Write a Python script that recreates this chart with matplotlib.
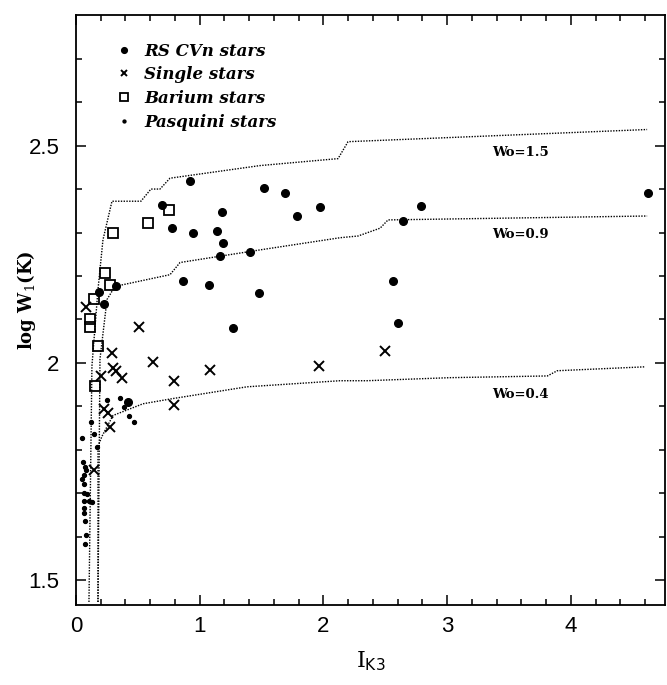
import matplotlib
matplotlib.use('Agg')
import matplotlib.pyplot as plt

plt.rcParams['mathtext.fontset'] = 'dejavuserif'

# RS CVn stars (I_K3, log W1)
rs_x = [0.922, 1.520, 1.690, 1.973, 1.787, 0.695, 1.180, 0.776, 0.946, 1.140,
        1.188, 1.407, 1.164, 0.865, 1.075, 1.479, 0.323, 0.186, 0.226, 1.269,
        0.420, 2.789, 2.644, 2.563, 2.603, 4.624]
rs_y = [2.418, 2.402, 2.390, 2.358, 2.338, 2.363, 2.347, 2.311, 2.299, 2.304,
        2.276, 2.256, 2.247, 2.189, 2.180, 2.160, 2.178, 2.162, 2.135, 2.080,
        1.909, 2.361, 2.326, 2.189, 2.091, 2.390]

# single stars
single_x = [0.083, 0.509, 0.293, 0.620, 1.086, 1.964, 0.792, 0.200, 0.302, 0.323,
            0.372, 0.226, 0.256, 0.792, 0.275, 0.148, 2.498]
single_y = [2.129, 2.082, 2.022, 2.002, 1.984, 1.992, 1.958, 1.971, 1.988, 1.982,
            1.966, 1.893, 1.884, 1.902, 1.853, 1.754, 2.027]

# barium stars
barium_x = [0.754, 0.584, 0.297, 0.232, 0.272, 0.146, 0.116, 0.111, 0.175, 0.156]
barium_y = [2.352, 2.323, 2.300, 2.208, 2.179, 2.146, 2.100, 2.082, 2.040, 1.947]

# Pasquini stars
pasq_x = [0.251, 0.358, 0.386, 0.426, 0.471, 0.124, 0.148, 0.049, 0.170, 0.057,
          0.069, 0.081, 0.061, 0.049, 0.065, 0.061, 0.089, 0.065, 0.105, 0.129,
          0.065, 0.065, 0.073, 0.081, 0.073]
pasq_y = [1.914, 1.920, 1.899, 1.878, 1.865, 1.865, 1.836, 1.827, 1.806, 1.772,
          1.761, 1.753, 1.743, 1.732, 1.721, 1.700, 1.699, 1.683, 1.682, 1.680,
          1.667, 1.655, 1.637, 1.603, 1.584]

# model curves for constant Wo
wo15_x = [0.105, 0.129, 0.178, 0.218, 0.291, 0.525, 0.606, 0.679, 0.760, 1.487,
          2.118, 2.199, 4.616]
wo15_y = [1.45, 1.993, 2.169, 2.283, 2.372, 2.372, 2.400, 2.400, 2.425, 2.454,
          2.470, 2.509, 2.537]
wo09_x = [0.178, 0.194, 0.251, 0.315, 0.760, 0.841, 1.487, 2.134, 2.280, 2.458,
          2.522, 4.616]
wo09_y = [1.45, 2.009, 2.146, 2.176, 2.203, 2.231, 2.260, 2.288, 2.292, 2.310,
          2.329, 2.338]
wo04_x = [0.178, 0.178, 0.210, 0.299, 0.542, 0.784, 1.382, 2.134, 2.350, 3.020,
          3.810, 3.890, 4.600]
wo04_y = [1.45, 1.808, 1.831, 1.879, 1.906, 1.918, 1.945, 1.959, 1.959, 1.966,
          1.970, 1.982, 1.991]

curve_labels = ['Wo=1.5', 'Wo=0.9', 'Wo=0.4']
label_x = [3.59, 3.59, 3.59]
label_y = [2.484, 2.295, 1.927]

fig = plt.figure(figsize=(6.67, 6.85), dpi=100)
ax = fig.add_axes([0.1139, 0.1168, 0.883, 0.861])

dots = (0, (1, 1))
for cx, cy in [(wo15_x, wo15_y), (wo09_x, wo09_y), (wo04_x, wo04_y)]:
    ax.plot(cx, cy, color='black', linestyle=dots, linewidth=1.0)

for t, lx, ly in zip(curve_labels, label_x, label_y):
    ax.text(lx, ly, t, ha='center', va='center', fontsize=9.5,
            fontfamily='DejaVu Serif', fontweight='bold')

ax.plot(rs_x, rs_y, 'o', color='black', markersize=5.5, label='RS CVn stars')
ax.plot(single_x, single_y, 'x', color='black', markersize=6.5,
        markeredgewidth=1.4, label='Single stars')
ax.plot(barium_x, barium_y, 's', color='black', markerfacecolor='none',
        markersize=7, markeredgewidth=1.3, label='Barium stars')
ax.plot(pasq_x, pasq_y, 'o', color='black', markersize=2.8,
        label='Pasquini stars')

ax.set_xlim(0, 4.76)
ax.set_ylim(1.443, 2.80)
ax.set_xticks([0, 1, 2, 3, 4])
ax.set_xticks([i * 0.2 for i in range(24)], minor=True)
ax.set_yticks([1.5, 2.0, 2.5])
ax.set_yticklabels(['1.5', '2', '2.5'])
ax.set_yticks([1.5 + i * 0.1 for i in range(13)], minor=True)
ax.tick_params(which='both', direction='in', top=True, right=True, width=1.1)
ax.tick_params(which='major', length=7, labelsize=16)
ax.tick_params(which='minor', length=4)
ax.tick_params(axis='y', which='major', pad=12)
ax.tick_params(axis='x', which='major', pad=8)
for lab in ax.get_xticklabels() + ax.get_yticklabels():
    lab.set_fontfamily('Liberation Sans')
for sp in ax.spines.values():
    sp.set_linewidth(1.3)

ax.set_xlabel(r'I$_{\mathsf{K3}}$', fontsize=16, fontfamily='DejaVu Serif')
ax.xaxis.set_label_coords(0.5, -0.075)
ax.set_ylabel(r'log W$_1$(K)', fontsize=13, fontfamily='DejaVu Serif',
              fontweight='bold')
ax.yaxis.set_label_coords(-0.064, 0.517)

leg = ax.legend(loc='upper left', bbox_to_anchor=(0.042, 0.979), frameon=False,
                markerscale=0.75, handlelength=1.0, handletextpad=0.7,
                labelspacing=0.4,
                prop={'family': 'DejaVu Serif', 'style': 'italic',
                      'weight': 'bold', 'size': 12})

fig.savefig('out.png', dpi=100)
